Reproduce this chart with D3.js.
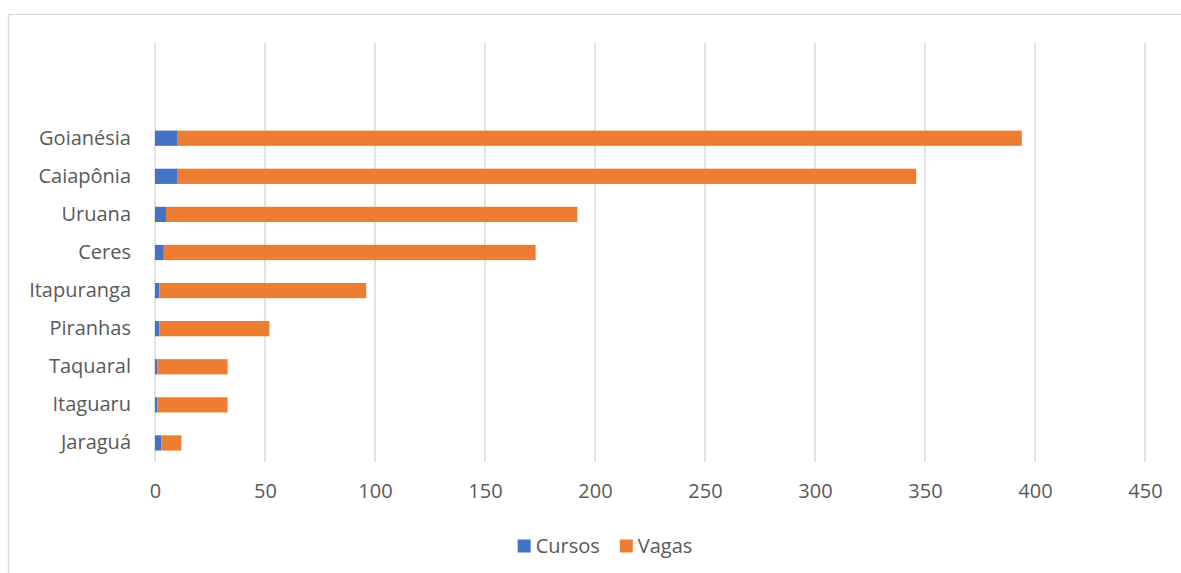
<!DOCTYPE html>
<html>
<head>
<meta charset="utf-8">
<script src="https://cdn.jsdelivr.net/npm/d3@7"></script>
<style>
  html, body { margin: 0; padding: 0; background: #fff; }
  svg { display: block; }
  text { font-family: "Open Sans", "Noto Sans", sans-serif; fill: #595959; }
</style>
</head>
<body>
<svg id="chart" width="1181" height="573"></svg>
<script>
// ---- data (top to bottom) ----
const categories = ["Goianésia", "Caiapônia", "Uruana", "Ceres", "Itapuranga", "Piranhas", "Taquaral", "Itaguaru", "Jaraguá"];
const cursos = [10, 10, 5, 4, 2, 2, 1, 1, 3];
const vagas = [384, 336, 187, 169, 94, 50, 32, 32, 9];
const seriesNames = ["Cursos", "Vagas"];
const seriesColors = ["#4472C4", "#ED7D31"];
const xTicks = [0, 50, 100, 150, 200, 250, 300, 350, 400, 450];

// ---- layout ----
const W = 1181, H = 573;
const plot = { left: 155, right: 1145, top: 43, bottom: 462 };
const blankSlots = 2; // empty category slots above the first bar

const svg = d3.select("#chart");

// chart border (only top and left edges visible in frame)
svg.append("rect")
  .attr("x", 8.5).attr("y", 14.5)
  .attr("width", W + 20).attr("height", H + 20)
  .attr("fill", "none").attr("stroke", "#d9d9d9").attr("stroke-width", 1.3);

const x = d3.scaleLinear().domain([0, 450]).range([plot.left, plot.right]);

const slots = d3.range(blankSlots).map(i => "__blank" + i).concat(categories);
const y = d3.scaleBand().domain(slots).range([plot.top, plot.bottom])
  .paddingInner(0.6).paddingOuter(0.3);

// gridlines
svg.append("g").selectAll("line").data(xTicks).join("line")
  .attr("x1", d => x(d)).attr("x2", d => x(d))
  .attr("y1", plot.top).attr("y2", plot.bottom)
  .attr("stroke", "#d9d9d9").attr("stroke-width", 1.5);

// stacked data
const rows = categories.map((c, i) => ({ cat: c, Cursos: cursos[i], Vagas: vagas[i] }));
const stack = d3.stack().keys(seriesNames)(rows);

svg.append("g").selectAll("g").data(stack).join("g")
  .attr("fill", (d, i) => seriesColors[i])
  .selectAll("rect").data(d => d).join("rect")
  .attr("x", d => x(d[0]))
  .attr("width", d => x(d[1]) - x(d[0]))
  .attr("y", d => y(d.data.cat))
  .attr("height", y.bandwidth());

// y axis labels
const yAxis = d3.axisLeft(y).tickValues(categories).tickSize(0).tickPadding(0);
const gy = svg.append("g").attr("transform", `translate(${131},0)`).call(yAxis);
gy.select(".domain").remove();
gy.selectAll("text").style("font-size", "20px").attr("fill", "#595959")
  .style("font-family", '"Open Sans", "Noto Sans", sans-serif');

// x axis labels
const xAxis = d3.axisBottom(x).tickValues(xTicks).tickSize(0).tickPadding(0);
const gx = svg.append("g").attr("transform", `translate(0,${484})`).call(xAxis);
gx.select(".domain").remove();
gx.selectAll("text").style("font-size", "20px").attr("fill", "#595959")
  .style("font-family", '"Open Sans", "Noto Sans", sans-serif');

// legend
const legendY = 546;
const sq = 13;
const lg = svg.append("g");
const items = lg.selectAll("g").data(seriesNames).join("g");
items.append("rect").attr("width", sq).attr("height", sq)
  .attr("y", legendY - sq / 2).attr("fill", (d, i) => seriesColors[i]);
items.append("text").text(d => d).attr("x", sq + 5).attr("y", legendY)
  .attr("dy", "0.35em").style("font-size", "20px");
const widths = [];
items.each(function () { widths.push(sq + 5 + this.querySelector("text").getComputedTextLength()); });
const gap = 20;
const total = d3.sum(widths) + gap * (widths.length - 1);
let start = 605 - total / 2;
items.attr("transform", (d, i) => {
  const t = `translate(${start},0)`;
  start += widths[i] + gap;
  return t;
});
</script>
</body>
</html>
